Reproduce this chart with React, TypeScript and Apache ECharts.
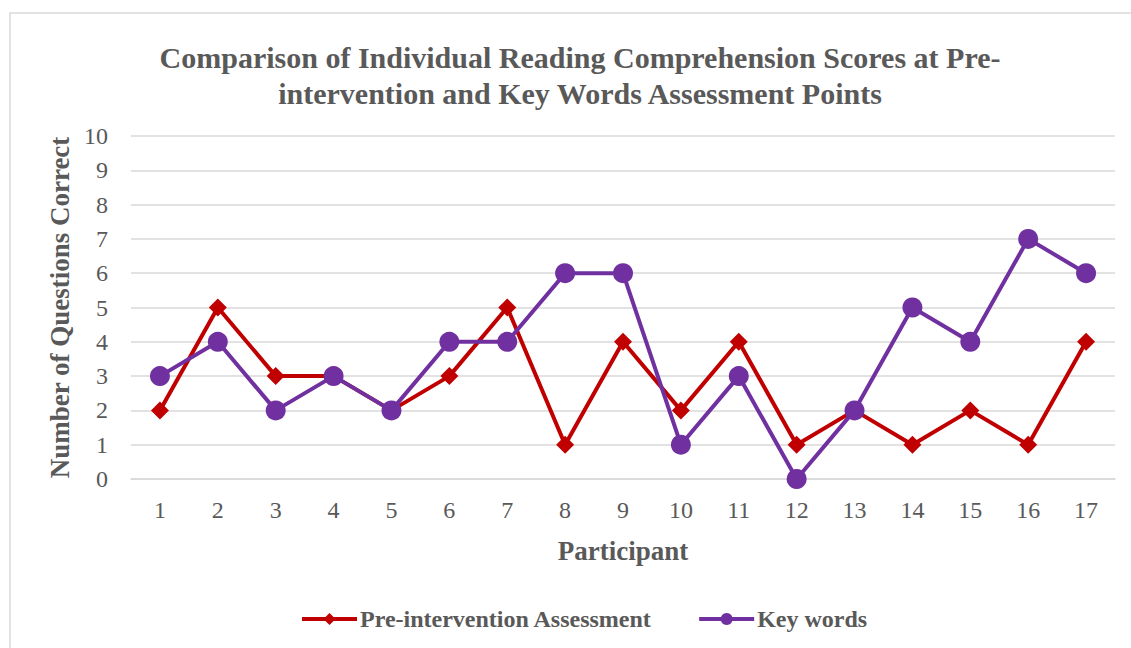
import React, { useEffect, useRef } from "react";
import * as echarts from "echarts";

const participants = ["1","2","3","4","5","6","7","8","9","10","11","12","13","14","15","16","17"];
const preIntervention = [2,5,3,3,2,3,5,1,4,2,4,1,2,1,2,1,4];
const keyWords = [3,4,2,3,2,4,4,6,6,1,3,0,2,5,4,7,6];

const FONT = "'Liberation Serif', 'Times New Roman', serif";
const GRAY = "#595959";

export default function App() {
  const ref = useRef<HTMLDivElement>(null);
  useEffect(() => {
    document.body.style.margin = "0";
    const chart = echarts.init(ref.current!, null, { renderer: "svg" });
    chart.setOption({
      animation: false,
      backgroundColor: "#ffffff",
      graphic: [
        {
          type: "rect",
          shape: { x: 10, y: 13, width: 1130, height: 650 },
          style: { fill: "none", stroke: "#d9d9d9", lineWidth: 1.5 },
          silent: true,
        },
      ],
      title: {
        text: "Comparison of Individual Reading Comprehension Scores at Pre-\nintervention and Key Words Assessment Points",
        left: 575,
        textAlign: "center",
        top: 34,
        textStyle: {
          fontFamily: FONT,
          fontWeight: "bold",
          fontSize: 30,
          color: GRAY,
          lineHeight: 36,
        },
      },
      legend: {
        bottom: 12,
        left: 295,
        itemWidth: 55,
        itemHeight: 15,
        itemGap: 45,
        textStyle: { fontFamily: FONT, fontWeight: "bold", fontSize: 24, color: GRAY, padding: [0, 0, 0, -2] },
        data: [
          { name: "Pre-intervention Assessment", lineStyle: { width: 4, color: "#C00000" } },
          { name: "Key words", lineStyle: { width: 4, color: "#7030A0" } },
        ],
      },
      grid: { left: 131, right: 16, top: 136, bottom: 169 },
      xAxis: {
        type: "category",
        data: participants,
        boundaryGap: true,
        axisTick: { show: false },
        axisLine: { show: true, lineStyle: { color: "#d9d9d9", width: 1.5 } },
        axisLabel: { fontFamily: FONT, fontSize: 24, color: GRAY, margin: 19 },
        name: "Participant",
        nameLocation: "middle",
        nameGap: 58,
        nameTextStyle: { fontFamily: FONT, fontWeight: "bold", fontSize: 27, color: GRAY },
      },
      yAxis: {
        type: "value",
        min: 0,
        max: 10,
        interval: 1,
        axisLine: { show: false },
        axisTick: { show: false },
        splitLine: { lineStyle: { color: "#d9d9d9", width: 1.5 } },
        axisLabel: { fontFamily: FONT, fontSize: 24, color: GRAY, margin: 23 },
        name: "Number of Questions Correct",
        nameLocation: "middle",
        nameRotate: 90,
        nameGap: 58,
        nameTextStyle: { fontFamily: FONT, fontWeight: "bold", fontSize: 27, color: GRAY },
      },
      series: [
        {
          name: "Pre-intervention Assessment",
          type: "line",
          data: preIntervention,
          symbol: "diamond",
          symbolSize: 18,
          itemStyle: { color: "#C00000" },
          lineStyle: { color: "#C00000", width: 4 },
          z: 2,
        },
        {
          name: "Key words",
          type: "line",
          data: keyWords,
          symbol: "circle",
          symbolSize: 20,
          itemStyle: { color: "#7030A0" },
          lineStyle: { color: "#7030A0", width: 4 },
          z: 3,
        },
      ],
    });
    return () => chart.dispose();
  }, []);
  return <div ref={ref} style={{ width: 1131, height: 648 }} />;
}
